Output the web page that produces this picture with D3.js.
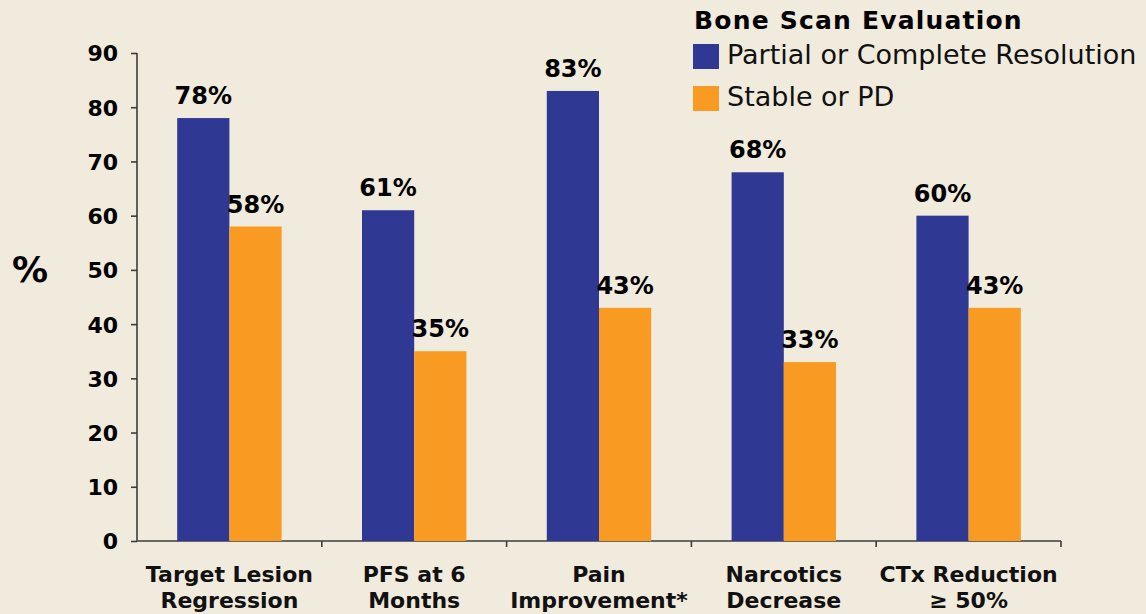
<!DOCTYPE html>
<html>
<head>
<meta charset="utf-8">
<script src="https://cdn.jsdelivr.net/npm/d3@7"></script>
<style>
    body { margin: 0; background: #f0ebdc; }
    svg { display: block; font-family: "DejaVu Sans", Verdana, sans-serif; }
</style>
</head>
<body>
<div id="chart"></div>
<script>
    // data
    const categories = [
        ["Target Lesion", "Regression"],
        ["PFS at 6", "Months"],
        ["Pain", "Improvement*"],
        ["Narcotics", "Decrease"],
        ["CTx Reduction", "\u2265 50%"]
    ];
    const seriesNames = ["Partial or Complete Resolution", "Stable or PD"];
    const resolvedValues = [78, 61, 83, 68, 60];
    const stableValues = [58, 35, 43, 33, 43];
    const yTicks = [0, 10, 20, 30, 40, 50, 60, 70, 80, 90];
    const colors = ["#2f3893", "#f99a22"];

    const W = 1146, H = 614;
    const margin = {left: 137, right: 85, top: 53, bottom: 73};
    const FONT = '"DejaVu Sans", Verdana, sans-serif';

    const svg = d3.select("#chart").append("svg")
        .attr("width", W).attr("height", H);

    svg.append("rect").attr("width", W).attr("height", H).attr("fill", "#f0ebdc");

    const x = d3.scaleBand()
        .domain(d3.range(categories.length))
        .range([margin.left, W - margin.right])
        .paddingInner(0).paddingOuter(0);

    const y = d3.scaleLinear()
        .domain([0, 90])
        .range([H - margin.bottom, margin.top]);

    const groupW = x.bandwidth() * 0.565;
    const x1 = d3.scaleBand()
        .domain([0, 1])
        .range([0, groupW]);

    // y axis
    const yAxis = svg.append("g")
        .attr("transform", `translate(${margin.left},0)`)
        .call(d3.axisLeft(y).tickValues(yTicks).tickSize(6).tickPadding(13));
    yAxis.attr("font-family", FONT).attr("font-size", 22).attr("font-weight", "bold");
    yAxis.selectAll("text").attr("fill", "#000").attr("dy", "0.36em");
    yAxis.selectAll("line, path").attr("stroke", "#3c3c3c").attr("stroke-width", 1.6);
    yAxis.select(".domain").attr("d", `M0,${y(90)}V${y(0)}`);

    // x axis with ticks between categories
    const xAxisG = svg.append("g")
        .attr("transform", `translate(0,${y(0)})`);
    xAxisG.append("line")
        .attr("x1", margin.left).attr("x2", W - margin.right)
        .attr("y1", 0).attr("y2", 0)
        .attr("stroke", "#3c3c3c").attr("stroke-width", 1.6);
    xAxisG.selectAll(".xt")
        .data(d3.range(1, categories.length + 1))
        .join("line")
        .attr("x1", d => x(0) + d * x.bandwidth())
        .attr("x2", d => x(0) + d * x.bandwidth())
        .attr("y1", 0).attr("y2", 6)
        .attr("stroke", "#3c3c3c").attr("stroke-width", 1.6);

    categories.forEach((lines, i) => {
        const t = svg.append("text")
            .attr("font-size", 22).attr("font-weight", "bold").attr("fill", "#111")
            .attr("text-anchor", "middle")
            .attr("x", x(i) + x.bandwidth() / 2)
            .attr("y", 582);
        lines.forEach((ln, j) => {
            t.append("tspan")
                .attr("x", x(i) + x.bandwidth() / 2)
                .attr("dy", j === 0 ? 0 : 26)
                .text(ln);
        });
    });

    // bars
    const series = [resolvedValues, stableValues];
    series.forEach((vals, s) => {
        const g = svg.append("g");
        vals.forEach((v, i) => {
            const bx = x(i) + (x.bandwidth() - groupW) / 2 + x1(s);
            g.append("rect")
                .attr("x", bx)
                .attr("y", y(v))
                .attr("width", x1.bandwidth())
                .attr("height", y(0) - y(v))
                .attr("fill", colors[s]);
            g.append("text")
                .attr("font-size", 24).attr("font-weight", "bold").attr("fill", "#000")
                .attr("text-anchor", "middle")
                .attr("x", bx + x1.bandwidth() / 2)
                .attr("y", y(v) - 14)
                .text(v + "%");
        });
    });

    // y title
    svg.append("text")
        .attr("x", 12).attr("y", 282)
        .attr("font-size", 36).attr("font-weight", "bold")
        .text("%");

    // legend
    const lg = svg.append("g").attr("transform", "translate(693,0)");
    lg.append("text")
        .attr("x", 1).attr("y", 29)
        .attr("font-size", 25).attr("font-weight", "bold")
        .attr("letter-spacing", 1.2)
        .text("Bone Scan Evaluation");
    seriesNames.forEach((n, i) => {
        lg.append("rect")
            .attr("x", 0).attr("y", 44 + i * 42)
            .attr("width", 26).attr("height", 25)
            .attr("fill", colors[i]);
        lg.append("text")
            .attr("x", 34).attr("y", 64 + i * 42)
            .attr("font-size", 27).attr("fill", "#111")
            .text(n);
    });
</script>
</body>
</html>
